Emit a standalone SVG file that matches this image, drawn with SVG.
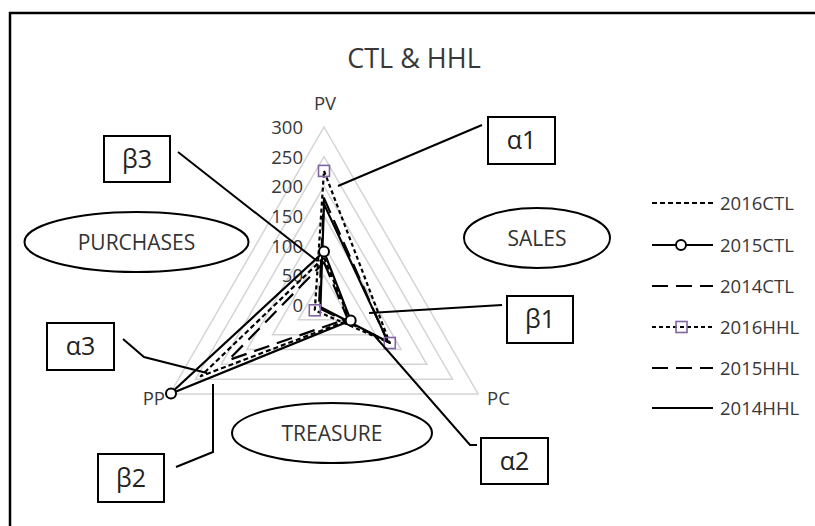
<svg xmlns="http://www.w3.org/2000/svg" width="815" height="526" viewBox="0 0 815 526">
<defs>
<style>
text{font-family:"Open Sans","Liberation Sans",sans-serif;fill:#383838}
.ring{fill:none;stroke:#d4d4d4;stroke-width:1.5}
.tick{font-size:18.5px;text-anchor:end}
.ax{font-size:18.5px}
.lg{font-size:18.5px}
.s{fill:none;stroke:#000;stroke-width:2.2;stroke-linejoin:round}
.sd{stroke-dasharray:5,3}
.ld{stroke-dasharray:16,8}
.hd{stroke-dasharray:4,3}
.circ{fill:#fff;stroke:#000;stroke-width:2}
.sq{fill:none;stroke:#8064A2;stroke-width:1.6}
.box{fill:#fff;stroke:#000;stroke-width:2}
.bt{font-size:25px;text-anchor:middle;fill:#222}
.el{fill:#fff;stroke:#000;stroke-width:2}
.et{font-size:21px;text-anchor:middle;fill:#333}
.con{fill:none;stroke:#000;stroke-width:2}
</style>
</defs>
<rect width="815" height="526" fill="#fff"/>
<path d="M10,540 V13 H830" fill="none" stroke="#000" stroke-width="2.5"/>
<text x="414" y="68" font-size="27" text-anchor="middle" fill="#262626">CTL &amp; HHL</text>

<g id="chart">
<g id="grid">
<polygon class="ring" points="324,275.3 349.7,319.8 298.3,319.8"/>
<polygon class="ring" points="324,245.7 375.4,334.7 272.6,334.7"/>
<polygon class="ring" points="324,216 401.1,349.5 246.9,349.5"/>
<polygon class="ring" points="324,186.3 426.8,364.3 221.2,364.3"/>
<polygon class="ring" points="324,156.7 452.5,379.2 195.5,379.2"/>
<polygon class="ring" points="324,127 478.1,394 169.9,394"/>
</g>
<g id="ticks">
<text class="tick" x="303" y="134">300</text>
<text class="tick" x="303" y="164">250</text>
<text class="tick" x="303" y="193">200</text>
<text class="tick" x="303" y="223">150</text>
<text class="tick" x="303" y="253">100</text>
<text class="tick" x="303" y="282">50</text>
<text class="tick" x="303" y="312">0</text>
</g>
<text class="ax" x="325" y="110" text-anchor="middle">PV</text>
<text class="ax" x="487" y="405">PC</text>
<text class="ax" x="165" y="405" text-anchor="end">PP</text>
<g id="series">
<polygon id="s2014HHL" class="s" points="324,204.1 388.2,342.1 320.4,307.1"/>
<polygon id="s2015HHL" class="s ld" points="324,198.2 387.7,341.8 318.9,308"/>
<polygon id="s2014CTL" class="s ld" points="324,262.3 347.6,318.6 228.4,360.2"/>
<polygon id="s2016CTL" class="s sd" points="324,257.5 349.7,319.8 200.7,376.2"/>
<polygon id="s2016HHL" class="s hd" points="324,170.9 389.8,343 314.8,310.3"/>
<polygon id="s2015CTL" class="s" points="324,251.6 350.7,320.4 169.9,394"/>
<g id="markers">
<rect class="sq" x="318.5" y="165.4" width="11" height="11"/>
<rect class="sq" x="384.3" y="337.5" width="11" height="11"/>
<rect class="sq" x="309.3" y="304.8" width="11" height="11"/>
<circle class="circ" cx="324" cy="251.6" r="5"/>
<circle class="circ" cx="350.7" cy="320.4" r="5"/>
<circle class="circ" cx="171" cy="393.5" r="5"/>
</g>
</g>
</g>

<g id="legend">
<line class="s sd" x1="652" y1="203" x2="713" y2="203"/>
<text class="lg" x="720" y="209.5">2016CTL</text>
<line class="s" x1="652" y1="245" x2="713" y2="245"/>
<circle class="circ" cx="681" cy="245" r="5"/>
<text class="lg" x="720" y="251.5">2015CTL</text>
<line class="s ld" x1="652" y1="286" x2="713" y2="286" stroke-dasharray="18,8"/>
<text class="lg" x="720" y="292.5">2014CTL</text>
<line class="s hd" x1="652" y1="327" x2="713" y2="327"/>
<rect class="sq" x="676" y="321.5" width="11" height="11"/>
<text class="lg" x="720" y="333.5">2016HHL</text>
<line class="s ld" x1="652" y1="368" x2="713" y2="368" stroke-dasharray="18,8"/>
<text class="lg" x="720" y="374.5">2015HHL</text>
<line class="s" x1="652" y1="408" x2="713" y2="408"/>
<text class="lg" x="720" y="414.5">2014HHL</text>
</g>

<g id="connectors">
<path class="con" d="M482,125 L338,186"/>
<path class="con" d="M178,152 L317,261"/>
<path class="con" d="M502,305 L369,313"/>
<path class="con" d="M373,334 L470,445 L477,445"/>
<path class="con" d="M123,339 L144,357 L207,373"/>
<path class="con" d="M176,467 L213,452 L213,384"/>
</g>

<g id="node-purchases">
<ellipse class="el" cx="136.5" cy="242" rx="112" ry="30"/>
<text class="et" x="136.5" y="249.5">PURCHASES</text>
</g>
<g id="node-sales">
<ellipse class="el" cx="537" cy="238" rx="73" ry="30"/>
<text class="et" x="537" y="245.5">SALES</text>
</g>
<g id="node-treasure">
<ellipse class="el" cx="332" cy="433" rx="100" ry="30"/>
<text class="et" x="332" y="440.5">TREASURE</text>
</g>
<g id="node-alpha1">
<rect class="box" x="488" y="117" width="67" height="47"/>
<text class="bt" x="521.5" y="149">α1</text>
</g>
<g id="node-beta3">
<rect class="box" x="104" y="136" width="66" height="46"/>
<text class="bt" x="137" y="168">β3</text>
</g>
<g id="node-beta1">
<rect class="box" x="507" y="296" width="66" height="47"/>
<text class="bt" x="540" y="328">β1</text>
</g>
<g id="node-alpha3">
<rect class="box" x="47" y="323" width="67" height="47"/>
<text class="bt" x="80.5" y="355">α3</text>
</g>
<g id="node-beta2">
<rect class="box" x="98" y="454" width="66" height="48"/>
<text class="bt" x="131" y="487">β2</text>
</g>
<g id="node-alpha2">
<rect class="box" x="481" y="438" width="67" height="46"/>
<text class="bt" x="514.5" y="470">α2</text>
</g>
</svg>
